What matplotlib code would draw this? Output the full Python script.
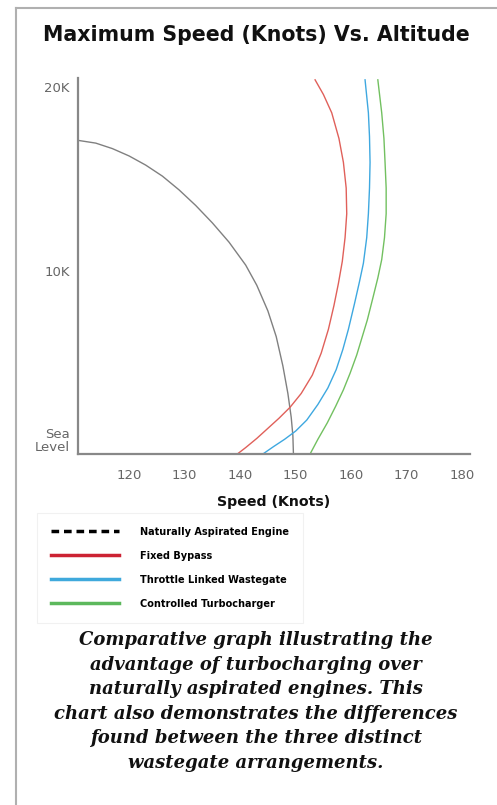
import matplotlib
matplotlib.use('Agg')
import matplotlib.pyplot as plt
from matplotlib.lines import Line2D

# dane (predkosc [kt], wysokosc [tys. ft])
na_speed = [110.8, 114, 117, 120, 123, 126, 129, 132, 135, 138, 141, 143, 145,
            146.5, 147.7, 148.6, 149.2, 149.5, 149.6]
na_alt = [17.1, 16.95, 16.65, 16.25, 15.75, 15.15, 14.4, 13.55, 12.6, 11.55, 10.3,
          9.2, 7.8, 6.4, 4.8, 3.3, 2.0, 1.0, 0]

fixed_speed = [139.5, 141, 143, 145, 147, 149, 151, 153, 154.6, 155.9, 156.9, 157.7,
               158.4, 158.9, 159.2, 159.1, 158.6, 157.8, 156.5, 155.0, 153.5]
fixed_alt = [0, 0.35, 0.85, 1.4, 1.95, 2.55, 3.3, 4.3, 5.5, 6.8, 8.1, 9.3,
             10.5, 11.8, 13.1, 14.5, 15.9, 17.2, 18.6, 19.6, 20.4]

throttle_speed = [144.1, 146, 148, 150, 152, 154, 155.8, 157.3, 158.5, 159.5, 160.6,
                  161.5, 162.2, 162.8, 163.1, 163.3, 163.4, 163.3, 163.1, 162.5]
throttle_alt = [0, 0.4, 0.8, 1.25, 1.85, 2.7, 3.6, 4.6, 5.7, 6.8, 8.2,
                9.4, 10.4, 11.8, 13.1, 14.5, 15.9, 17.3, 18.6, 20.4]

ctrl_speed = [152.6, 154, 155.7, 157.2, 158.6, 159.8, 161.0, 162.0, 162.9, 163.9,
              164.8, 165.5, 166.0, 166.3, 166.3, 166.1, 165.9, 165.5, 164.8]
ctrl_alt = [0, 0.8, 1.7, 2.6, 3.5, 4.4, 5.4, 6.4, 7.3, 8.5,
            9.6, 10.6, 11.8, 13.1, 14.5, 15.9, 17.2, 18.6, 20.4]

x_ticks = [120, 130, 140, 150, 160, 170, 180]
y_ticks = [0, 10, 20]
y_labels = ['Sea\nLevel', '10K', '20K']

legend_labels = ['Naturally Aspirated Engine', 'Fixed Bypass',
                 'Throttle Linked Wastegate', 'Controlled Turbocharger']

caption = ['Comparative graph illustrating the',
           'advantage of turbocharging over',
           'naturally aspirated engines. This',
           'chart also demonstrates the differences',
           'found between the three distinct',
           'wastegate arrangements.']

W, H = 497, 805

fig = plt.figure(figsize=(W / 100, H / 100), dpi=100)
fig.patch.set_facecolor('white')

# ramka strony (gora i lewa strona)
fig.add_artist(Line2D([16 / W, 1], [1 - 8 / H, 1 - 8 / H], color='#b0b0b0', lw=1.5))
fig.add_artist(Line2D([16 / W, 16 / W], [0, 1 - 8 / H], color='#b0b0b0', lw=1.5))

ax = fig.add_axes([78 / W, 1 - 454 / H, 392 / W, 376 / H])
ax.plot(na_speed, na_alt, color='#808080', lw=1.0)
ax.plot(fixed_speed, fixed_alt, color='#e0605a', lw=1.0)
ax.plot(throttle_speed, throttle_alt, color='#3ea8e0', lw=1.0)
ax.plot(ctrl_speed, ctrl_alt, color='#72c060', lw=1.0)

ax.set_xlim(110.8, 181.4)
ax.set_ylim(0, 20.5)
for s in ['top', 'right']:
    ax.spines[s].set_visible(False)
for s in ['left', 'bottom']:
    ax.spines[s].set_color('#888888')
    ax.spines[s].set_linewidth(1.6)

ax.set_xticks(x_ticks)
ax.set_xticklabels([str(t) for t in x_ticks])
ax.set_yticks(y_ticks)
ax.set_yticklabels(y_labels, linespacing=1.05)
ax.tick_params(length=0, labelsize=9.5, labelcolor='#666666')
ax.tick_params(axis='x', pad=11)
ax.tick_params(axis='y', pad=6)
ax.get_yticklabels()[0].set_verticalalignment('bottom')
ax.get_yticklabels()[0].set_horizontalalignment('right')

ax.set_xlabel('Speed (Knots)', weight='bold', fontsize=10.2,
              labelpad=9, color='#111111')

fig.text(256 / W, 1 - 35 / H, 'Maximum Speed (Knots) Vs. Altitude', ha='center',
         va='center', weight='bold', fontsize=14.8, color='#111111')

handles = [Line2D([], [], color='black', lw=2.5, ls=(0, (2.2, 1.4))),
           Line2D([], [], color='#cc2233', lw=2.5),
           Line2D([], [], color='#3fa9dc', lw=2.5),
           Line2D([], [], color='#5cb85c', lw=2.5)]
leg = fig.legend(handles, legend_labels, loc='upper left',
                 bbox_to_anchor=(37 / W, 1 - 513 / H), borderaxespad=0,
                 prop={'weight': 'bold', 'size': 7},
                 handlelength=7.0, handletextpad=2.2, labelspacing=1.45,
                 frameon=True, fancybox=False, borderpad=1.4)
leg.get_frame().set_edgecolor('#eeeeee')
leg.get_frame().set_linewidth(0.8)

for i, line in enumerate(caption):
    fig.text(256 / W, 1 - (640 + i * 24.6) / H, line, ha='center', va='center',
             family='DejaVu Serif', style='italic', weight='bold', fontsize=13.0,
             color='#111111')

fig.savefig('out.png', dpi=100, facecolor='white')
